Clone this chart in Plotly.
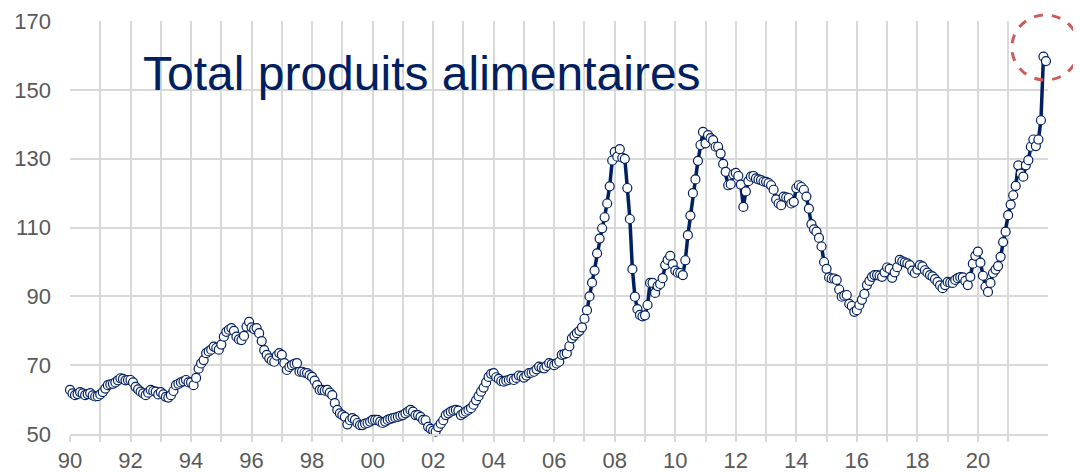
import plotly.graph_objects as go

# FAO-style food price index, monthly from Jan 1990 to Apr 2022
values_1990s = [
    62.8, 61.8, 61.3, 61.6, 62.2, 61.8, 61.3, 61.6, 61.9, 61.2, 60.9, 61.0,
    61.5, 62.2, 63.2, 64.2, 64.4, 64.6, 65.0, 65.6, 66.2, 66.0, 65.6, 65.7,
    65.7, 65.0, 63.7, 63.0, 62.3, 61.8, 61.3, 62.0, 62.8, 62.5, 62.3, 61.5,
    62.2, 61.5, 60.8, 60.6, 61.3, 62.5, 64.2, 64.6, 65.0, 65.3, 65.7, 65.0,
    65.0, 64.2, 66.3, 69.0, 70.5, 71.5, 73.5, 74.0, 74.5, 75.4, 75.0, 74.5,
    76.0, 78.3, 79.7, 80.3, 80.8, 80.0, 78.3, 77.5, 77.3, 78.5, 81.2, 82.6,
    81.0, 80.5, 80.8, 79.3, 77.0, 74.4, 73.0, 72.0, 71.3, 71.0, 72.8, 73.5,
    73.0, 70.6, 68.6, 69.5, 70.0, 70.4, 70.6, 68.1, 68.1, 67.8, 67.7, 67.1,
    66.6, 65.5, 64.2, 62.8, 62.8, 62.6, 62.8, 62.0, 61.3, 59.0, 57.0, 56.0,
    55.5, 55.0, 52.8, 54.0, 54.6, 54.1, 53.2, 52.6, 52.6, 53.0, 53.2, 53.6,
]
values_2000s = [
    54.1, 54.1, 54.1, 53.6, 53.2, 53.6, 54.1, 54.4, 54.6, 54.8, 55.0, 55.3,
    55.5, 56.0, 56.5, 57.0, 56.5, 55.5, 55.5, 55.0, 54.1, 54.0, 52.1, 51.5,
    51.0, 50.7, 52.0, 53.0, 54.0, 55.5, 56.0, 56.5, 56.8, 57.0, 56.8, 55.5,
    56.0, 56.5, 57.0, 57.5, 58.5, 59.8, 61.0, 62.3, 63.5, 65.0, 66.6, 67.5,
    67.7, 66.5, 66.0, 65.4, 65.2, 65.5, 65.7, 66.0, 65.7, 66.3, 67.0, 66.8,
    66.4, 67.0, 67.7, 67.8, 68.1, 68.8, 69.6, 69.3, 69.1, 69.8, 70.6, 70.3,
    70.0, 70.5, 71.0, 73.0, 73.2, 73.5, 75.5, 77.8, 78.6, 79.3, 80.0, 81.0,
    83.5, 86.0, 90.0, 94.0, 97.5, 102.5, 106.8, 109.8, 113.0, 117.0, 122.0, 129.5,
    132.0, 130.6, 132.8, 130.3, 130.0, 121.5, 112.5, 97.9, 89.9, 86.3, 84.6, 84.2,
    84.5, 87.5, 93.9, 93.9, 91.0, 93.0, 93.6, 95.3, 99.1, 100.6, 101.8, 99.4,
]
values_2010s = [
    97.5, 96.9, 96.8, 96.2, 100.5, 107.8, 113.5, 120.0, 124.0, 129.4, 134.0, 137.8,
    134.5, 136.9, 136.0, 135.4, 133.5, 133.5, 131.5, 128.5, 126.2, 122.3, 122.6, 125.5,
    125.9, 125.0, 122.5, 116.0, 120.5, 123.5, 124.8, 125.0, 124.3, 124.0, 123.8, 123.4,
    123.3, 122.9, 122.3, 121.0, 118.2, 117.0, 116.5, 119.0, 118.8, 118.6, 117.0, 117.5,
    121.5, 122.3, 121.8, 121.0, 119.0, 115.5, 111.0, 109.5, 108.8, 107.0, 104.5, 100.0,
    98.0, 95.5, 95.2, 95.2, 94.8, 92.0, 89.9, 90.2, 90.4, 87.8, 87.2, 85.5,
    86.0, 87.5, 89.0, 90.7, 93.3, 94.5, 95.7, 96.2, 96.2, 96.0, 95.7, 97.0,
    98.4, 98.0, 95.4, 97.0, 98.5, 100.6, 100.2, 99.9, 99.6, 99.1, 97.5, 96.8,
    97.8, 99.1, 98.7, 97.6, 96.9, 96.2, 95.8, 95.0, 94.2, 93.2, 92.4, 93.3,
    94.2, 94.0, 93.9, 94.8, 95.3, 95.6, 95.5, 94.5, 93.3, 95.7, 99.5, 101.8,
]
values_2020s = [
    103.0, 99.8, 96.0, 92.8, 91.3, 93.9, 96.8, 97.8, 98.8, 101.5, 105.8, 108.8,
    113.6, 116.7, 119.4, 122.1, 128.1, 125.7, 124.8, 128.1, 129.6, 133.5, 135.6, 133.7,
    135.6, 141.2, 159.7, 158.4,
]

start_year = 1990
year_ticks = list(range(1990, 2022))
year_labels = ["90", "", "92", "", "94", "", "96", "", "98", "",
               "00", "", "02", "", "04", "", "06", "", "08", "",
               "10", "", "12", "", "14", "", "16", "", "18", "",
               "20", ""]
y_ticks = [50, 70, 90, 110, 130, 150, 170]
title_text = "Total produits alimentaires"

values = values_1990s + values_2000s + values_2010s + values_2020s
dates = [start_year + i / 12 for i in range(len(values))]

NAVY = "#002060"
GRID = "#d9d9d9"
LABEL = "#595959"
FONT = "Liberation Sans, Arial, sans-serif"

fig = go.Figure()
fig.add_trace(go.Scatter(
    x=dates, y=values, mode="lines+markers",
    line=dict(color=NAVY, width=3.5),
    marker=dict(size=9, color="white", line=dict(color=NAVY, width=1.2)),
    cliponaxis=False, hoverinfo="skip", showlegend=False,
))

fig.add_annotation(
    text=title_text, xref="paper", yref="paper",
    x=0.073, y=0.874, xanchor="left", yanchor="middle",
    showarrow=False, font=dict(family=FONT, size=48, color=NAVY),
)

fig.add_shape(
    type="circle", xref="paper", yref="paper",
    x0=0.963, x1=1.0317, y0=0.857, y1=1.0145,
    line=dict(color="#CD5B5B", width=3, dash="dash"),
)

# the page body adds an 8px offset, so the figure is sized to fit the window
fig.update_layout(
    width=1073, height=465,
    margin=dict(l=62, r=33, t=13, b=39, autoexpand=False),
    paper_bgcolor="white", plot_bgcolor="white",
    font=dict(family=FONT, color=LABEL),
    xaxis=dict(
        range=[1990, 1990 + 387.8 / 12],
        tickmode="array", tickvals=year_ticks, ticktext=year_labels,
        showgrid=True, gridcolor=GRID, gridwidth=1.5,
        ticks="outside", ticklen=6, tickwidth=1.5, tickcolor=GRID,
        showline=True, linecolor=GRID, linewidth=1.5,
        zeroline=False, automargin=False, ticklabelstandoff=0,
        tickfont=dict(family=FONT, size=22, color=LABEL),
    ),
    yaxis=dict(
        range=[50, 170.05],
        tickmode="array", tickvals=y_ticks,
        showgrid=True, gridcolor=GRID, gridwidth=1.5,
        zeroline=False, showline=False, ticks="",
        ticklabelstandoff=18, automargin=False,
        tickfont=dict(family=FONT, size=22, color=LABEL),
    ),
)

fig.write_html("out.html")
